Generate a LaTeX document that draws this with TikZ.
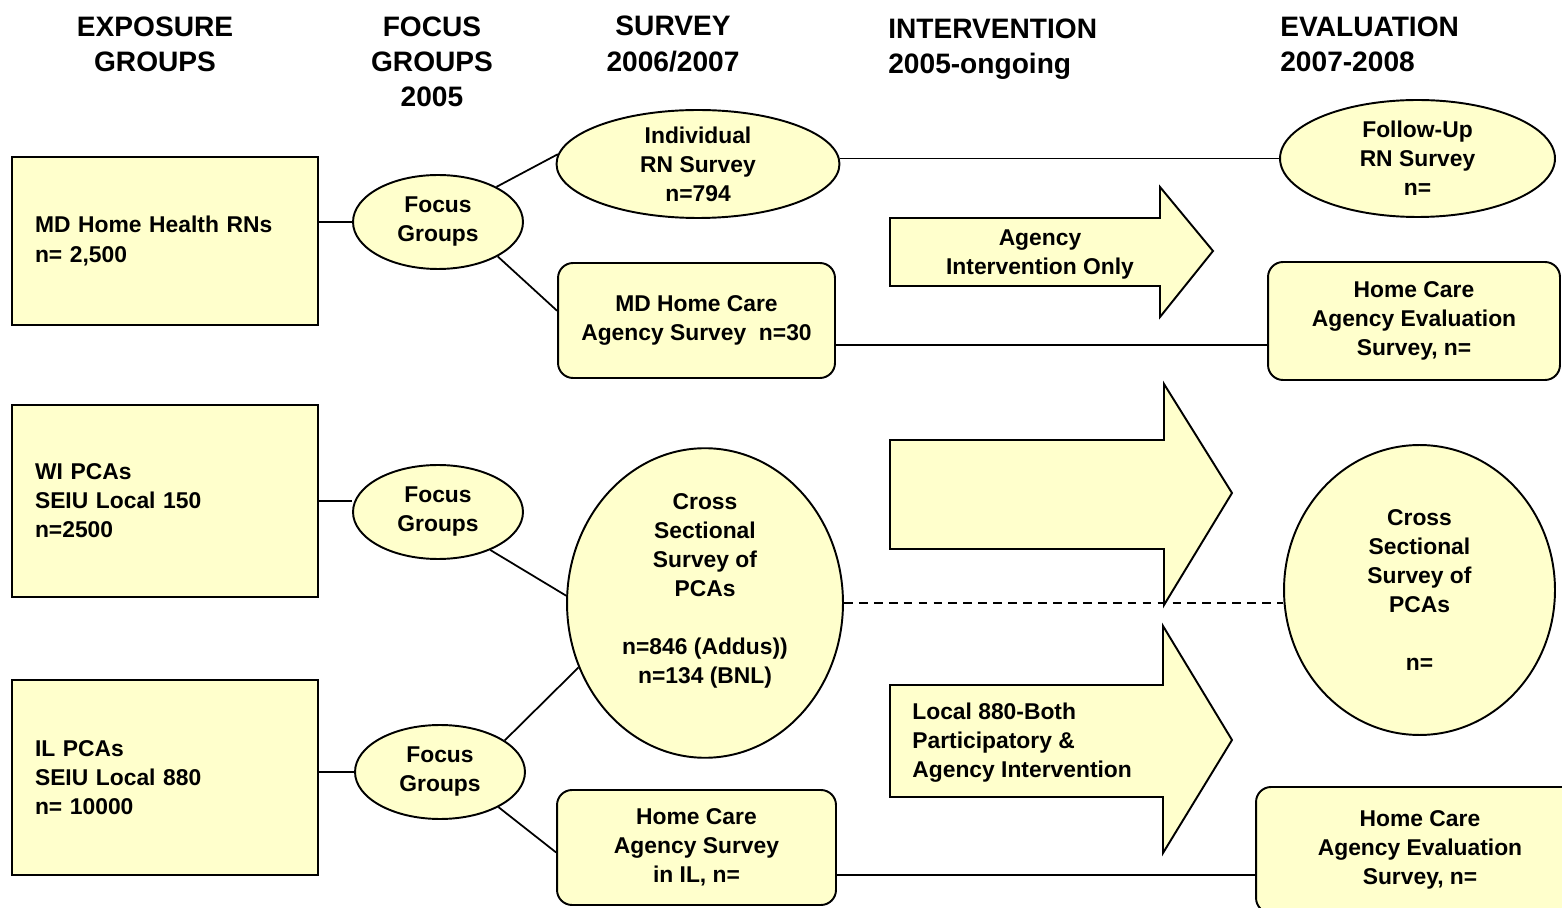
\documentclass[tikz,border=0pt]{standalone}
\usepackage{fontspec}
\setmainfont{Liberation Sans}
\usepackage{xcolor}
\definecolor{pale-yellow}{HTML}{FFFFCC}
\usetikzlibrary{shapes.geometric}

\begin{document}
\begin{tikzpicture}[x=0.02cm, y=-0.02cm,
      every node/.style={font=\fontsize{13}{16.5}\selectfont\bfseries},
      heading/.style={font=\fontsize{16}{20}\selectfont\bfseries, align=center, inner sep=0pt},
      groupbox/.style={draw, line width=1.1pt, fill=pale-yellow, align=left,
        text width=5.2cm, inner xsep=0.46cm, minimum height=#1},
      oval/.style={draw, line width=1.1pt, fill=pale-yellow, ellipse, inner sep=0pt, align=center},
      roundbox/.style={draw, line width=1.1pt, fill=pale-yellow, rounded corners=0.3cm,
        inner sep=0pt, align=center},
      blockarrow/.style={draw, line width=1.1pt, fill=pale-yellow, line join=miter},
      link/.style={line width=1pt}]
    \useasboundingbox (0,0) rectangle (1562,908);
    \clip (0,0) rectangle (1562,908);
    % column headings
    \node[heading] (hexp) at (155,44) {EXPOSURE\\GROUPS};
    \node[heading] (hfoc) at (432,62) {FOCUS\\GROUPS\\2005};
    \node[heading] (hsur) at (673,44) {SURVEY\\2006/2007};
    \node[heading, align=left, anchor=west] (hint) at (888,49) {INTERVENTION\\2005-ongoing};
    \node[heading, align=left, anchor=west] (heva) at (1280,44) {EVALUATION\\2007-2008};
    % exposure groups
    \node[groupbox=3.36cm] (mdrn) at (165,241) {MD Home Health RNs\\[1pt]n= 2,500};
    \node[groupbox=3.84cm] (wipca) at (165,501) {WI PCAs\\SEIU Local 150\\n=2500};
    \node[groupbox=3.9cm] (ilpca) at (165,777.5) {IL PCAs\\SEIU Local 880\\n= 10000};
    % focus groups
    \node[oval, minimum width=3.4cm, minimum height=1.88cm] (focmd) at (438,222) {Focus\\Groups};
    \node[oval, minimum width=3.4cm, minimum height=1.88cm] (focwi) at (438,512) {Focus\\Groups};
    \node[oval, minimum width=3.4cm, minimum height=1.88cm] (focil) at (440,772) {Focus\\Groups};
    % surveys
    \node[oval, minimum width=5.66cm, minimum height=2.16cm] (rnsurv) at (698,164)
      {Individual\\RN Survey\\n=794};
    \node[roundbox, minimum width=5.54cm, minimum height=2.3cm] (mdagency) at (696.5,320.5)
      {MD Home Care\\Agency Survey~~n=30};
    \node[oval, minimum width=5.52cm, minimum height=6.04cm] (pcasurv) at (705,603)
      {Cross\\Sectional\\Survey of\\PCAs\\~\\n=846 (Addus))\\n=134 (BNL)\\~};
    \node[roundbox, minimum width=5.58cm, minimum height=2.3cm] (ilagency) at (696.5,847.5)
      {Home Care\\Agency Survey\\in IL, n=};
    % interventions
    \draw[blockarrow] (890,218) -- (1160,218) -- (1160,187) -- (1213,251) -- (1160,317)
      -- (1160,286) -- (890,286) -- cycle;
    \node[align=center] (agencyonly) at (1040,255) {Agency\\Intervention Only};
    \draw[blockarrow] (890,440) -- (1164,440) -- (1164,384) -- (1232,493) -- (1164,605)
      -- (1164,549) -- (890,549) -- cycle;
    \draw[blockarrow] (890,685) -- (1163,685) -- (1163,626) -- (1232,740) -- (1163,853)
      -- (1163,797) -- (890,797) -- cycle;
    \node[align=left, anchor=west, inner sep=0pt] (bothint) at (912,743)
      {Local 880-Both\\Participatory \&\\Agency Intervention};
    % evaluation
    \node[oval, minimum width=5.5cm, minimum height=2.34cm] (rnfollow) at (1417.5,158.5)
      {Follow-Up\\RN Survey\\n=};
    \node[roundbox, minimum width=5.84cm, minimum height=2.36cm] (mdeval) at (1414,321)
      {Home Care\\Agency Evaluation\\Survey, n=};
    \node[oval, minimum width=5.42cm, minimum height=5.8cm] (pcafollow) at (1419.5,590)
      {Cross\\Sectional\\Survey of\\PCAs\\~\\n=};
    \node[roundbox, minimum width=6.56cm, minimum height=2.52cm] (ileval) at (1420,850)
      {Home Care\\Agency Evaluation\\Survey, n=};
    % connectors
    \draw[link] (focmd.west) -- (focmd.west -| mdrn.east);
    \draw[link] (wipca.east) -- (wipca.east -| focwi.west);
    \draw[link] (focil.west) -- (focil.west -| ilpca.east);
    \draw[link] (focmd.31) -- (rnsurv.176);
    \draw[link] (focmd.-30) -- (mdagency.176);
    \draw[link] (focwi.-36) -- (pcasurv.177);
    \draw[link] (focil.26) -- (pcasurv.207);
    \draw[link] (focil.-31) -- (ilagency.182);
    \draw[link] (rnfollow.west) -- (rnfollow.west -| rnsurv.east);
    \draw[link] (mdagency.-10) -- (mdagency.-10 -| mdeval.west);
    \draw[link] (ilagency.-11.5) -- (ilagency.-11.5 -| ileval.west);
    \draw[link, dash pattern=on 5pt off 3.5pt] (pcasurv.east) -- (pcasurv.east -| pcafollow.west);
  \end{tikzpicture}
\end{document}
